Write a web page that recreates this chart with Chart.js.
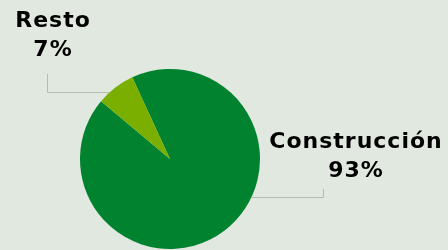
<!DOCTYPE html>
<html><head><meta charset="utf-8">
<script src="https://cdn.jsdelivr.net/npm/chart.js@4"></script>
<style>html,body{margin:0;padding:0;background:#e1e8df;}canvas{display:block;}</style>
</head><body>
<canvas id="c" width="448" height="250"></canvas>
<script>
const categories = ['Construcción', 'Resto'];
const values = [93, 7];
const percentLabels = ['93%', '7%'];
const colors = ['#00822e', '#7aaf00'];

const labelPlugin = {
  id: 'labels',
  afterDraw(chart) {
    const ctx = chart.ctx;
    const arcs = chart.getDatasetMeta(0).data;
    const cx = arcs[0].x, cy = arcs[0].y, r = arcs[0].outerRadius;
    ctx.save();
    ctx.strokeStyle = '#b7bbad';
    ctx.lineWidth = 1;
    const yR = 92.5;
    const xR = cx - Math.sqrt(r*r - (yR-cy)*(yR-cy));
    ctx.beginPath();
    ctx.moveTo(47.5, 74); ctx.lineTo(47.5, yR); ctx.lineTo(xR, yR);
    ctx.stroke();
    const yC = 197.5;
    const xC = cx + Math.sqrt(r*r - (yC-cy)*(yC-cy));
    ctx.beginPath();
    ctx.moveTo(xC, yC); ctx.lineTo(323.5, yC); ctx.lineTo(323.5, 189);
    ctx.stroke();
    ctx.fillStyle = '#000';
    ctx.font = 'bold 22px "DejaVu Sans"';
    ctx.letterSpacing = '1px';
    ctx.textAlign = 'center';
    ctx.textBaseline = 'alphabetic';
    ctx.fillText(categories[1], 53, 27);
    ctx.fillText(percentLabels[1], 53, 56);
    ctx.fillText(categories[0], 356, 148);
    ctx.fillText(percentLabels[0], 356, 177);
    ctx.restore();
  }
};

new Chart(document.getElementById('c'), {
  type: 'pie',
  data: {
    labels: categories,
    datasets: [{ data: values, backgroundColor: colors, borderWidth: 0 }]
  },
  options: {
    responsive: false,
    animation: false,
    rotation: -24.8,
    layout: { padding: { left: 80, right: 188, top: 69, bottom: 1 } },
    plugins: { legend: { display: false }, tooltip: { enabled: false } }
  },
  plugins: [labelPlugin]
});
</script>
</body></html>
